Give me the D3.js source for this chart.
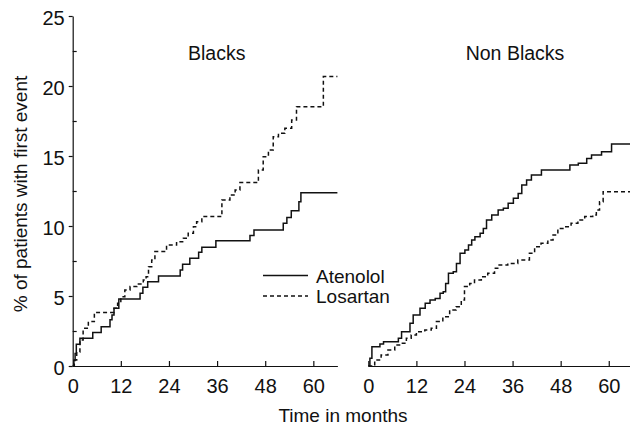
<!DOCTYPE html>
<html>
<head>
<meta charset="utf-8">
<script src="https://cdn.jsdelivr.net/npm/d3@7"></script>
<style>
  body { margin: 0; background: #fff; }
  svg text { font-family: "Liberation Sans", Arial, sans-serif; fill: #111; }
  .axis path, .axis line { stroke: #111; stroke-width: 1.2; }
</style>
</head>
<body>
<svg id="chart" width="630" height="428"></svg>
<script>
// [month, % of patients with first event], step changes
const blacksAtenolol = [[0,0],[0.3,0.4],[0.6,0.9],[0.9,1.55],[1.8,1.98],[5.0,2.4],[7.1,2.8],[9.3,3.3],[9.8,3.64],[10.3,4.12],[11.5,4.79],[16.8,5.19],[17.5,5.62],[18.7,6.02],[21.4,6.43],[26.8,6.86],[27.4,7.26],[29.2,7.69],[31.4,8.12],[32.2,8.48],[35.7,8.95],[44.2,9.33],[45.2,9.71],[52.5,10.19],[53.4,10.6],[54.5,11.09],[56.4,11.74],[56.9,12.38],[66,12.38]];
const blacksLosartan = [[0,0],[0.4,0.43],[1.0,1.0],[1.8,1.86],[2.6,2.69],[3.9,3.17],[5.4,3.83],[10.3,4.12],[11.2,4.48],[12.0,4.95],[13.0,5.43],[14.3,5.67],[16.0,5.86],[17.6,6.14],[18.3,6.38],[18.9,7.09],[19.7,7.57],[20.5,8.17],[23.4,8.64],[25.9,8.88],[27.6,9.12],[28.8,9.48],[30.1,9.95],[30.9,10.31],[32.2,10.67],[37.2,11.86],[39.2,12.21],[40.5,12.57],[41.7,13.1],[46.3,14.0],[47.5,14.95],[48.8,15.43],[50.0,16.38],[51.3,16.62],[52.9,16.98],[54.6,17.57],[55.8,18.52],[62.5,20.67],[66,20.67]];
const nonBlacksAtenolol = [[0,0],[0.4,0.55],[0.9,1.38],[2.9,1.57],[3.8,1.74],[7.5,1.98],[8.3,2.45],[10.4,3.05],[11.2,3.64],[12.9,4.12],[14.2,4.48],[15.4,4.71],[16.7,4.83],[17.9,5.19],[18.7,5.31],[19.3,5.9],[20.0,6.62],[21.2,6.74],[22.0,7.33],[22.9,8.05],[24.1,8.29],[25.0,8.64],[25.8,9.0],[26.6,9.24],[27.9,9.48],[28.7,9.83],[29.5,10.43],[30.8,10.79],[32.4,11.14],[33.7,11.26],[34.9,11.62],[36.2,11.98],[37.4,12.33],[38.3,12.93],[39.5,13.29],[40.7,13.64],[43.2,14.0],[50.3,14.36],[52.4,14.48],[54.5,14.83],[55.7,15.07],[58.2,15.31],[60.7,15.86],[65.3,15.86]];
const nonBlacksLosartan = [[0,0],[1.6,0.43],[3.2,0.79],[4.9,1.14],[6.6,1.5],[7.8,1.62],[9.5,1.98],[10.7,2.21],[12.0,2.45],[14.1,2.57],[15.7,2.69],[17.0,3.17],[18.6,3.52],[20.3,4.0],[21.9,4.24],[23.2,4.71],[24.0,5.67],[25.3,5.9],[26.5,6.14],[28.2,6.38],[29.8,6.62],[31.5,6.98],[32.3,7.21],[34.8,7.33],[37.3,7.57],[40.2,8.05],[41.5,8.52],[43.1,8.76],[44.8,9.0],[46.1,9.36],[47.3,9.83],[49.0,9.95],[50.6,10.19],[52.3,10.43],[54.0,10.67],[56.0,10.79],[56.9,11.14],[57.7,11.74],[58.6,12.45],[65.3,12.45]];

const monthTicks = [0, 12, 24, 36, 48, 60];
const pctTicks = [0, 5, 10, 15, 20, 25];
const pctMinorTicks = [2.5, 7.5, 12.5, 17.5, 22.5];
const panelTitles = ["Blacks", "Non Blacks"];
const seriesNames = ["Atenolol", "Losartan"];

const svg = d3.select("#chart");

const y = d3.scaleLinear().domain([0, 25]).range([366, 16]);
const xLeft = d3.scaleLinear().domain([0, 66]).range([72.7, 337.4]);
const xRight = d3.scaleLinear().domain([0, 65.3]).range([368.3, 630]);

// y axis (left panel only): labelled ticks outside, minor ticks inside
svg.append("g").attr("class", "axis")
    .attr("transform", `translate(${xLeft(0)},0)`)
    .call(d3.axisLeft(y).tickValues(pctTicks).tickSize(4).tickPadding(4).tickSizeOuter(0))
    .call(g => g.selectAll("text").style("font-size", "20px").attr("dy", "0.4em"));

svg.append("g").attr("class", "axis")
    .attr("transform", `translate(${xLeft(0)},0)`)
    .call(d3.axisLeft(y).tickValues(pctMinorTicks).tickSize(-4).tickFormat(""))
    .call(g => g.select(".domain").remove());

function xAxis(x, showZeroTick) {
    const g = svg.append("g").attr("class", "axis")
        .attr("transform", `translate(0,${y(0)})`)
        .call(d3.axisBottom(x).tickValues(monthTicks).tickSize(-5).tickSizeOuter(0).tickPadding(13));
    g.selectAll("text").style("font-size", "20px");
    if (!showZeroTick) g.selectAll(".tick line").filter(d => d === 0).remove();
    return g;
}
xAxis(xLeft, false);
xAxis(xRight, true);

function stepLine(x) {
    return d3.line()
        .x(d => x(d[0]))
        .y(d => y(d[1]))
        .curve(d3.curveStepAfter);
}

function drawSeries(data, x, dashed) {
    svg.append("path")
        .datum(data)
        .attr("fill", "none")
        .attr("stroke", "#111")
        .attr("stroke-width", 1.5)
        .attr("stroke-dasharray", dashed ? "4,3" : null)
        .attr("d", stepLine(x));
}

drawSeries(blacksAtenolol, xLeft, false);
drawSeries(blacksLosartan, xLeft, true);
drawSeries(nonBlacksAtenolol, xRight, false);
drawSeries(nonBlacksLosartan, xRight, true);

// panel titles
svg.append("text").attr("x", 216.7).attr("y", 59.5).attr("text-anchor", "middle")
    .style("font-size", "19.5px").text(panelTitles[0]);
svg.append("text").attr("x", 515).attr("y", 60).attr("text-anchor", "middle")
    .style("font-size", "19.5px").text(panelTitles[1]);

// legend
const legend = svg.append("g");
seriesNames.forEach((name, i) => {
    const ly = 275.5 + i * 20.5;
    legend.append("line")
        .attr("x1", 263).attr("x2", 308).attr("y1", ly).attr("y2", ly)
        .attr("stroke", "#111").attr("stroke-width", 1.5)
        .attr("stroke-dasharray", i === 1 ? "4,3" : null);
    legend.append("text").attr("x", 316).attr("y", ly + 7)
        .style("font-size", "19px").text(name);
});

// axis titles
svg.append("text")
    .attr("transform", "translate(27,194) rotate(-90)")
    .attr("text-anchor", "middle")
    .style("font-size", "19px")
    .text("% of patients with first event");

svg.append("text").attr("x", 343).attr("y", 422).attr("text-anchor", "middle")
    .style("font-size", "19px").text("Time in months");
</script>
</body>
</html>
